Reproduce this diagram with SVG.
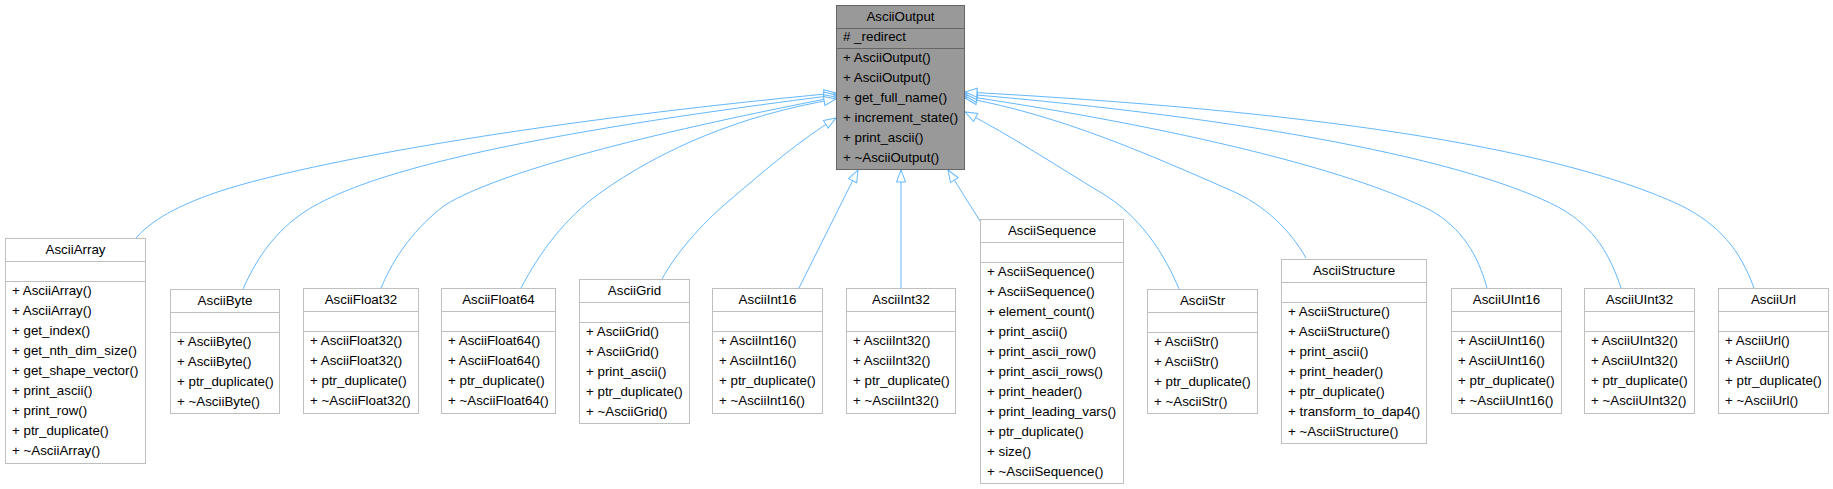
<svg xmlns="http://www.w3.org/2000/svg" width="1833" height="489" viewBox="0 0 1833 489">
<style>
  text { font-family: "Liberation Sans", Arial, Helvetica, sans-serif; font-size: 13.33px; fill: #000; }
  .t { text-anchor: middle; }
  .box { fill: #ffffff; stroke: #bfbfbf; stroke-width: 1; }
  .sep { stroke: #bfbfbf; stroke-width: 1; }
  .root { fill: #999999; stroke: #666666; stroke-width: 1; }
  .rsep { stroke: #666666; stroke-width: 1; }
  .edge { fill: none; stroke: #63b8ff; stroke-width: 1; marker-end: url(#tri); }
</style>
<defs>
  <marker id="tri" markerUnits="userSpaceOnUse" markerWidth="16" markerHeight="12" refX="13" refY="6" orient="auto">
    <path d="M1,1.5 L13,6 L1,10.5 Z" fill="#ffffff" stroke="#63b8ff" stroke-width="1"/>
  </marker>
</defs>
<rect x="0" y="0" width="1833" height="489" fill="#ffffff"/>

<g id="connectors">
  <path class="edge" d="M136,238 C150,222 175,205 230,188 C330,158 550,120 836,93"/>
  <path class="edge" d="M243,289 C255,262 272,235 300,215 C360,172 520,135 836,95"/>
  <path class="edge" d="M381,288 C395,255 415,228 445,205 C500,172 640,135 836,97"/>
  <path class="edge" d="M521,288 C540,252 565,218 600,193 C660,150 740,115 836,99"/>
  <path class="edge" d="M662,279 C675,255 700,225 730,200 C765,170 800,140 836,118"/>
  <path class="edge" d="M799,288 L858,170"/>
  <path class="edge" d="M901,288 L901,170"/>
  <path class="edge" d="M980,221 L948,170"/>
  <path class="edge" d="M1179,289 C1165,255 1140,215 1100,192 C1060,168 1010,135 965,112"/>
  <path class="edge" d="M1306,258 C1290,230 1265,205 1230,190 C1150,155 1060,115 965,98"/>
  <path class="edge" d="M1487,288 C1478,255 1462,228 1430,210 C1350,170 1180,128 965,96"/>
  <path class="edge" d="M1621,288 C1610,255 1595,228 1560,208 C1470,160 1250,118 965,94"/>
  <path class="edge" d="M1754,288 C1740,250 1720,225 1680,205 C1550,145 1300,110 965,92"/>
</g>

<g id="AsciiOutput">
  <rect class="root" x="836.5" y="5.5" width="128" height="164"/>
  <line class="rsep" x1="836.5" y1="28.5" x2="964.5" y2="28.5"/>
  <line class="rsep" x1="836.5" y1="48.5" x2="964.5" y2="48.5"/>
  <text class="t" x="900.5" y="21">AsciiOutput</text>
  <text x="843" y="40.5"># _redirect</text>
  <text x="843" y="62">+ AsciiOutput()</text>
  <text x="843" y="82">+ AsciiOutput()</text>
  <text x="843" y="102">+ get_full_name()</text>
  <text x="843" y="122">+ increment_state()</text>
  <text x="843" y="142">+ print_ascii()</text>
  <text x="843" y="162">+ ~AsciiOutput()</text>
</g>

<g id="AsciiArray">
  <rect class="box" x="5.5" y="238.5" width="140" height="225"/>
  <line class="sep" x1="5.5" y1="261.5" x2="145.5" y2="261.5"/>
  <line class="sep" x1="5.5" y1="281.5" x2="145.5" y2="281.5"/>
  <text class="t" x="75.5" y="254">AsciiArray</text>
  <text x="12" y="295">+ AsciiArray()</text>
  <text x="12" y="315">+ AsciiArray()</text>
  <text x="12" y="335">+ get_index()</text>
  <text x="12" y="355">+ get_nth_dim_size()</text>
  <text x="12" y="375">+ get_shape_vector()</text>
  <text x="12" y="395">+ print_ascii()</text>
  <text x="12" y="415">+ print_row()</text>
  <text x="12" y="435">+ ptr_duplicate()</text>
  <text x="12" y="455">+ ~AsciiArray()</text>
</g>

<g id="AsciiByte">
  <rect class="box" x="170.5" y="289.5" width="109" height="124"/>
  <line class="sep" x1="170.5" y1="312.5" x2="279.5" y2="312.5"/>
  <line class="sep" x1="170.5" y1="332.5" x2="279.5" y2="332.5"/>
  <text class="t" x="225" y="305">AsciiByte</text>
  <text x="177" y="346">+ AsciiByte()</text>
  <text x="177" y="366">+ AsciiByte()</text>
  <text x="177" y="386">+ ptr_duplicate()</text>
  <text x="177" y="406">+ ~AsciiByte()</text>
</g>

<g id="AsciiFloat32">
  <rect class="box" x="303.5" y="288.5" width="115" height="125"/>
  <line class="sep" x1="303.5" y1="311.5" x2="418.5" y2="311.5"/>
  <line class="sep" x1="303.5" y1="331.5" x2="418.5" y2="331.5"/>
  <text class="t" x="361" y="304">AsciiFloat32</text>
  <text x="310" y="345">+ AsciiFloat32()</text>
  <text x="310" y="365">+ AsciiFloat32()</text>
  <text x="310" y="385">+ ptr_duplicate()</text>
  <text x="310" y="405">+ ~AsciiFloat32()</text>
</g>

<g id="AsciiFloat64">
  <rect class="box" x="441.5" y="288.5" width="114" height="125"/>
  <line class="sep" x1="441.5" y1="311.5" x2="555.5" y2="311.5"/>
  <line class="sep" x1="441.5" y1="331.5" x2="555.5" y2="331.5"/>
  <text class="t" x="498.5" y="304">AsciiFloat64</text>
  <text x="448" y="345">+ AsciiFloat64()</text>
  <text x="448" y="365">+ AsciiFloat64()</text>
  <text x="448" y="385">+ ptr_duplicate()</text>
  <text x="448" y="405">+ ~AsciiFloat64()</text>
</g>

<g id="AsciiGrid">
  <rect class="box" x="579.5" y="279.5" width="110" height="144"/>
  <line class="sep" x1="579.5" y1="302.5" x2="689.5" y2="302.5"/>
  <line class="sep" x1="579.5" y1="322.5" x2="689.5" y2="322.5"/>
  <text class="t" x="634.5" y="295">AsciiGrid</text>
  <text x="586" y="336">+ AsciiGrid()</text>
  <text x="586" y="356">+ AsciiGrid()</text>
  <text x="586" y="376">+ print_ascii()</text>
  <text x="586" y="396">+ ptr_duplicate()</text>
  <text x="586" y="416">+ ~AsciiGrid()</text>
</g>

<g id="AsciiInt16">
  <rect class="box" x="712.5" y="288.5" width="110" height="125"/>
  <line class="sep" x1="712.5" y1="311.5" x2="822.5" y2="311.5"/>
  <line class="sep" x1="712.5" y1="331.5" x2="822.5" y2="331.5"/>
  <text class="t" x="767.5" y="304">AsciiInt16</text>
  <text x="719" y="345">+ AsciiInt16()</text>
  <text x="719" y="365">+ AsciiInt16()</text>
  <text x="719" y="385">+ ptr_duplicate()</text>
  <text x="719" y="405">+ ~AsciiInt16()</text>
</g>

<g id="AsciiInt32">
  <rect class="box" x="846.5" y="288.5" width="109" height="125"/>
  <line class="sep" x1="846.5" y1="311.5" x2="955.5" y2="311.5"/>
  <line class="sep" x1="846.5" y1="331.5" x2="955.5" y2="331.5"/>
  <text class="t" x="901" y="304">AsciiInt32</text>
  <text x="853" y="345">+ AsciiInt32()</text>
  <text x="853" y="365">+ AsciiInt32()</text>
  <text x="853" y="385">+ ptr_duplicate()</text>
  <text x="853" y="405">+ ~AsciiInt32()</text>
</g>

<g id="AsciiSequence">
  <rect class="box" x="980.5" y="219.5" width="143" height="264"/>
  <line class="sep" x1="980.5" y1="242.5" x2="1123.5" y2="242.5"/>
  <line class="sep" x1="980.5" y1="262.5" x2="1123.5" y2="262.5"/>
  <text class="t" x="1052" y="235">AsciiSequence</text>
  <text x="987" y="276">+ AsciiSequence()</text>
  <text x="987" y="296">+ AsciiSequence()</text>
  <text x="987" y="316">+ element_count()</text>
  <text x="987" y="336">+ print_ascii()</text>
  <text x="987" y="356">+ print_ascii_row()</text>
  <text x="987" y="376">+ print_ascii_rows()</text>
  <text x="987" y="396">+ print_header()</text>
  <text x="987" y="416">+ print_leading_vars()</text>
  <text x="987" y="436">+ ptr_duplicate()</text>
  <text x="987" y="456">+ size()</text>
  <text x="987" y="476">+ ~AsciiSequence()</text>
</g>

<g id="AsciiStr">
  <rect class="box" x="1147.5" y="289.5" width="110" height="124"/>
  <line class="sep" x1="1147.5" y1="312.5" x2="1257.5" y2="312.5"/>
  <line class="sep" x1="1147.5" y1="332.5" x2="1257.5" y2="332.5"/>
  <text class="t" x="1202.5" y="305">AsciiStr</text>
  <text x="1154" y="346">+ AsciiStr()</text>
  <text x="1154" y="366">+ AsciiStr()</text>
  <text x="1154" y="386">+ ptr_duplicate()</text>
  <text x="1154" y="406">+ ~AsciiStr()</text>
</g>

<g id="AsciiStructure">
  <rect class="box" x="1281.5" y="259.5" width="145" height="184"/>
  <line class="sep" x1="1281.5" y1="282.5" x2="1426.5" y2="282.5"/>
  <line class="sep" x1="1281.5" y1="302.5" x2="1426.5" y2="302.5"/>
  <text class="t" x="1354" y="275">AsciiStructure</text>
  <text x="1288" y="316">+ AsciiStructure()</text>
  <text x="1288" y="336">+ AsciiStructure()</text>
  <text x="1288" y="356">+ print_ascii()</text>
  <text x="1288" y="376">+ print_header()</text>
  <text x="1288" y="396">+ ptr_duplicate()</text>
  <text x="1288" y="416">+ transform_to_dap4()</text>
  <text x="1288" y="436">+ ~AsciiStructure()</text>
</g>

<g id="AsciiUInt16">
  <rect class="box" x="1451.5" y="288.5" width="110" height="125"/>
  <line class="sep" x1="1451.5" y1="311.5" x2="1561.5" y2="311.5"/>
  <line class="sep" x1="1451.5" y1="331.5" x2="1561.5" y2="331.5"/>
  <text class="t" x="1506.5" y="304">AsciiUInt16</text>
  <text x="1458" y="345">+ AsciiUInt16()</text>
  <text x="1458" y="365">+ AsciiUInt16()</text>
  <text x="1458" y="385">+ ptr_duplicate()</text>
  <text x="1458" y="405">+ ~AsciiUInt16()</text>
</g>

<g id="AsciiUInt32">
  <rect class="box" x="1584.5" y="288.5" width="110" height="125"/>
  <line class="sep" x1="1584.5" y1="311.5" x2="1694.5" y2="311.5"/>
  <line class="sep" x1="1584.5" y1="331.5" x2="1694.5" y2="331.5"/>
  <text class="t" x="1639.5" y="304">AsciiUInt32</text>
  <text x="1591" y="345">+ AsciiUInt32()</text>
  <text x="1591" y="365">+ AsciiUInt32()</text>
  <text x="1591" y="385">+ ptr_duplicate()</text>
  <text x="1591" y="405">+ ~AsciiUInt32()</text>
</g>

<g id="AsciiUrl">
  <rect class="box" x="1718.5" y="288.5" width="110" height="125"/>
  <line class="sep" x1="1718.5" y1="311.5" x2="1828.5" y2="311.5"/>
  <line class="sep" x1="1718.5" y1="331.5" x2="1828.5" y2="331.5"/>
  <text class="t" x="1773.5" y="304">AsciiUrl</text>
  <text x="1725" y="345">+ AsciiUrl()</text>
  <text x="1725" y="365">+ AsciiUrl()</text>
  <text x="1725" y="385">+ ptr_duplicate()</text>
  <text x="1725" y="405">+ ~AsciiUrl()</text>
</g>
</svg>
